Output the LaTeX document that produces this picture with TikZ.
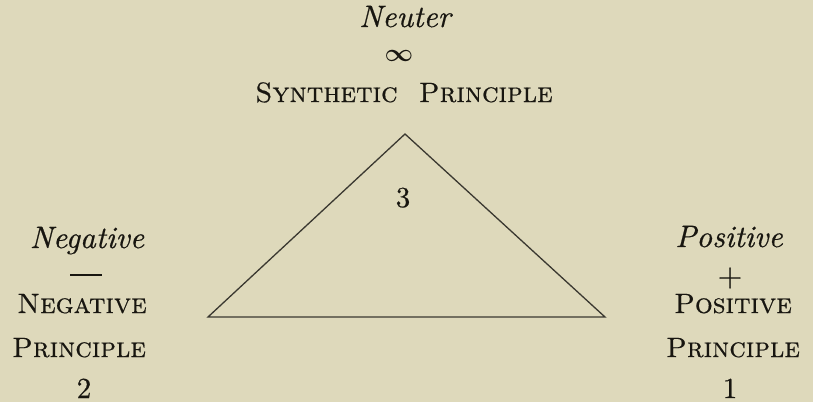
\documentclass[tikz,border=0pt]{standalone}
\usepackage{amsmath}
\usepackage{fontspec}
\setmainfont{lmroman10-regular.otf}[ItalicFont=lmroman10-italic.otf, SmallCapsFont=lmromancaps10-regular.otf, BoldFont=lmroman10-bold.otf, FakeBold=0.6]
\definecolor{paper}{RGB}{222,217,187}
\definecolor{ink}{RGB}{24,22,16}
\definecolor{rule}{RGB}{58,56,48}
\begin{document}
\begin{tikzpicture}[x=1pt,y=-1pt,
  lbl/.style={inner sep=0pt, anchor=base, text=ink, font=\fontsize{28}{34}\selectfont},
  num/.style={lbl, font=\fontsize{29}{34}\selectfont},
  itl/.style={lbl, font=\fontsize{31}{36}\selectfont\itshape},
  scl/.style={lbl, font=\fontsize{28}{34}\selectfont\scshape},
  edge/.style={draw=rule, line width=1.3pt, line join=miter}]
\fill[paper] (0,0) rectangle (813,402);
\useasboundingbox (0,0) rectangle (813,402);
% top
\node[itl] (neuter) at (405,27) {Neuter};
\node[inner sep=0pt, text=ink, font=\fontsize{23}{26}\selectfont] (inf) at (399,56) {$\boldsymbol{\infty}$};
\node[scl] (synth) at (404,102) {Synthetic\ \ Principle};
% triangle
\coordinate (apex) at (405,134);
\coordinate (left) at (208,317);
\coordinate (right) at (605,317);
\draw[edge] (left) -- (apex) -- (right) -- cycle;
\node[num] (three) at (403,207) {3};
% left column
\node[itl] (neg) at (87,248) {Negative};
\node[fill=ink, inner sep=0pt, minimum width=32pt, minimum height=2.2pt] (minus) at (86,275) {};
\node[scl] (negp) at (82,313) {Negative};
\node[scl] (negq) at (79,357) {Principle};
\node[num] (two) at (84,398) {2};
% right column
\node[itl] (pos) at (729,247) {Positive};
\node[lbl, font=\fontsize{32}{34}\selectfont] (plus) at (730,286) {+};
\node[scl] (posp) at (733,313) {Positive};
\node[scl] (posq) at (733,357) {Principle};
\node[num] (one) at (730,398) {1};
\end{tikzpicture}
\end{document}
